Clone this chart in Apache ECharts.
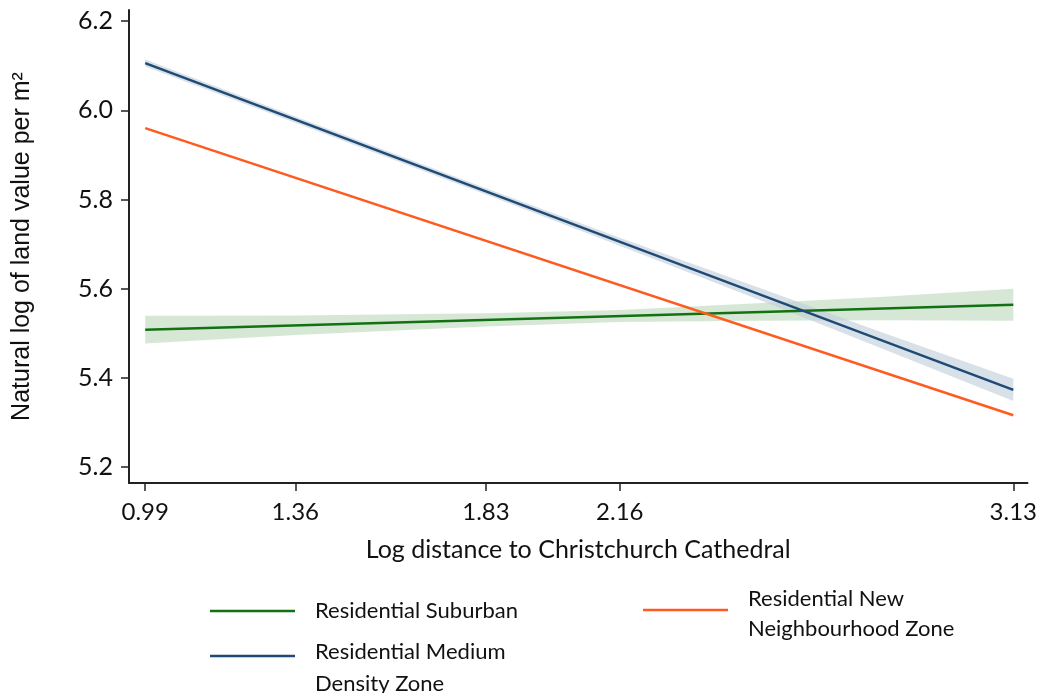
<!DOCTYPE html>
<html>
<head>
<meta charset="utf-8">
<script src="https://cdn.jsdelivr.net/npm/echarts@6/dist/echarts.min.js"></script>
<style>html,body{margin:0;padding:0;background:#fff}#c{width:1040px;height:693px}</style>
</head>
<body>
<div id="c"></div>
<script>
// ---- data ----
var xTicks = [0.99, 1.36, 1.83, 2.16, 3.13];
var yTicks = [5.2, 5.4, 5.6, 5.8, 6.0, 6.2];
var lineX = [0.99, 3.13];
var suburban = [5.508, 5.564];
var mediumDensity = [6.106, 5.373];
var newNeighbourhood = [5.960, 5.316];
var bandX = [0.99, 1.36, 1.83, 2.16, 2.5, 2.8, 3.13];
var suburbanLow  = [5.477, 5.496, 5.515, 5.525, 5.528, 5.529, 5.528];
var suburbanHigh = [5.539, 5.540, 5.545, 5.552, 5.567, 5.581, 5.600];
var mediumLow  = [6.098, 5.972, 5.811, 5.696, 5.576, 5.468, 5.348];
var mediumHigh = [6.114, 5.986, 5.825, 5.714, 5.603, 5.504, 5.398];

var names = ['Residential Suburban', 'Residential Medium\nDensity Zone', 'Residential New\nNeighbourhood Zone'];
var colors = ['#137113', '#1f4a75', '#ff5a1f'];

function pairs(xs, ys){ return xs.map(function(x,i){ return [x, ys[i]]; }); }

function bandSeries(low, high, fill){
  return {
    type: 'custom',
    silent: true,
    z: 1,
    data: [0],
    renderItem: function(params, api){
      var pts = [];
      for (var i = 0; i < bandX.length; i++) pts.push(api.coord([bandX[i], high[i]]));
      for (var j = bandX.length - 1; j >= 0; j--) pts.push(api.coord([bandX[j], low[j]]));
      return { type: 'polygon', shape: { points: pts }, style: { fill: fill } };
    }
  };
}

function richLegend(name){
  var lines = name.split('\n').map(function(s){ return '{t|' + s + '}'; });
  return '{s|}\n' + lines.join('\n');
}

var font = 'Lato, "Open Sans", sans-serif';
var chart = echarts.init(document.getElementById('c'), null, {renderer: 'canvas'});
chart.setOption({
  animation: false,
  backgroundColor: '#fff',
  grid: { left: 129, top: 10, right: 10, bottom: 210, containLabel: false },
  xAxis: {
    type: 'value', min: 0.95, max: 3.165,
    name: 'Log distance to Christchurch Cathedral',
    nameLocation: 'middle', nameGap: 54,
    nameTextStyle: { fontFamily: font, fontSize: 25, color: '#111' },
    axisLine: { show: true, lineStyle: { color: '#222', width: 2 } },
    axisTick: { show: true, length: 8, lineStyle: { color: '#222', width: 1.5 }, customValues: xTicks },
    axisLabel: { customValues: xTicks, margin: 17, fontFamily: font, fontSize: 24, color: '#111',
      formatter: function(v){ return v.toFixed(2); } },
    splitLine: { show: false }
  },
  yAxis: {
    type: 'value', min: 5.164, max: 6.225,
    name: 'Natural log of land value per m²',
    nameLocation: 'middle', nameGap: 94, nameRotate: 90,
    nameTextStyle: { fontFamily: '"Liberation Sans", Arial, sans-serif', fontSize: 25, color: '#111' },
    axisLine: { show: true, lineStyle: { color: '#222', width: 2 } },
    axisTick: { show: true, length: 8, lineStyle: { color: '#222', width: 1.5 }, customValues: yTicks },
    axisLabel: { customValues: yTicks, margin: 16, fontFamily: font, fontSize: 25, color: '#111',
      formatter: function(v){ return v.toFixed(1); } },
    splitLine: { show: false }
  },
  legend: [
    { data: [names[0]], left: 210, top: 598, padding: 0, icon: 'rect', itemWidth: 85, itemHeight: 2.5,
      textStyle: { fontFamily: font, fontSize: 22, color: '#111', lineHeight: 26, padding: [0,0,0,15] } },
    { data: [names[1]], left: 210, top: 612, padding: 0, icon: 'rect', itemWidth: 85, itemHeight: 2.5,
      formatter: function(n){ return richLegend(n); },
      textStyle: { fontFamily: font, fontSize: 22, color: '#111', padding: [0,0,0,15],
        rich: { s: { height: 24, lineHeight: 24, fontSize: 10 }, t: { fontFamily: font, fontSize: 22, color: '#111', lineHeight: 32 } } } },
    { data: [names[2]], left: 643, top: 576, padding: 0, icon: 'rect', itemWidth: 85, itemHeight: 2.5,
      formatter: function(n){ return richLegend(n); },
      textStyle: { fontFamily: font, fontSize: 22, color: '#111', padding: [0,0,0,15],
        rich: { s: { height: 8, lineHeight: 8, fontSize: 6 }, t: { fontFamily: font, fontSize: 22, color: '#111', lineHeight: 30 } } } }
  ],
  series: [
    bandSeries(suburbanLow, suburbanHigh, 'rgba(180,214,178,0.55)'),
    bandSeries(mediumLow, mediumHigh, 'rgba(190,203,217,0.6)'),
    { name: names[0], type: 'line', data: pairs(lineX, suburban), symbol: 'none', z: 3,
      lineStyle: { color: colors[0], width: 2.5 }, itemStyle: { color: colors[0] } },
    { name: names[1], type: 'line', data: pairs(lineX, mediumDensity), symbol: 'none', z: 3,
      lineStyle: { color: colors[1], width: 2.5 }, itemStyle: { color: colors[1] } },
    { name: names[2], type: 'line', data: pairs(lineX, newNeighbourhood), symbol: 'none', z: 3,
      lineStyle: { color: colors[2], width: 2.5 }, itemStyle: { color: colors[2] } }
  ]
});
</script>
</body>
</html>
